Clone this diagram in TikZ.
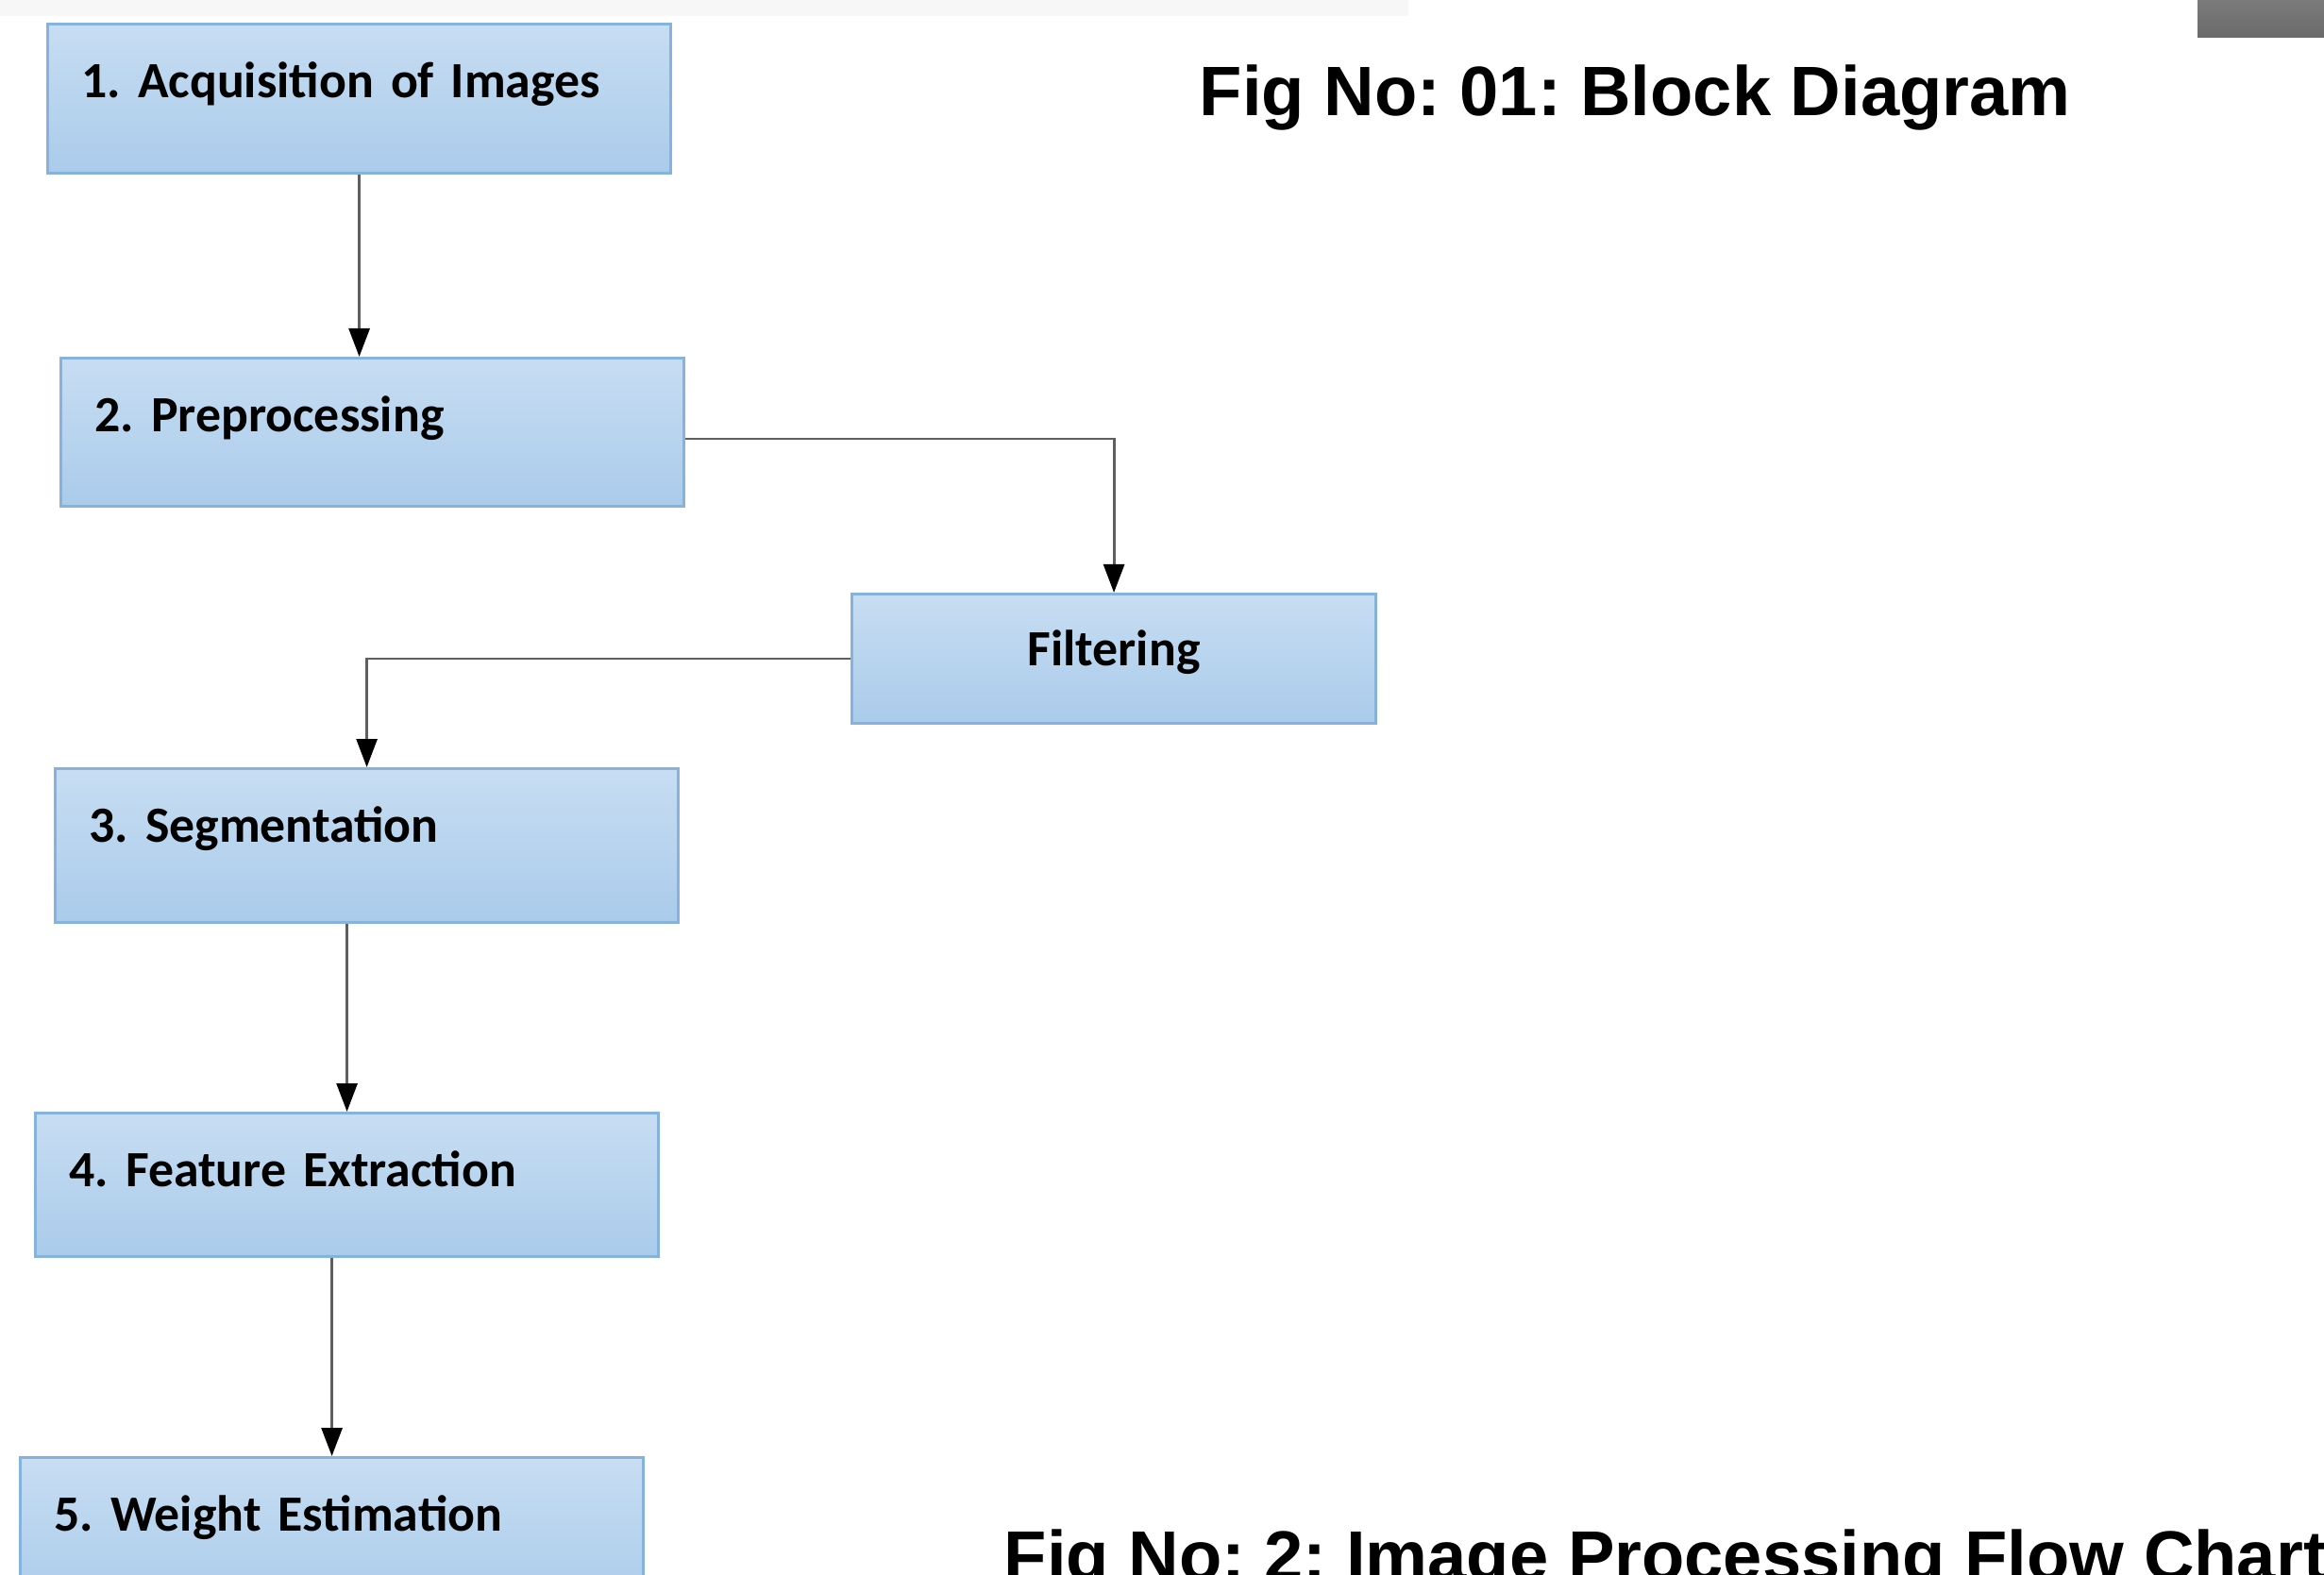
\documentclass[tikz,border=0pt]{standalone}
\usepackage{fontspec}
\setmainfont{Carlito}
\newfontfamily\figfont{Liberation Sans}
\usepackage{xcolor}
\usepackage{tikz}
\usetikzlibrary{arrows.meta, positioning, calc}
\frenchspacing

\definecolor{blkborder}{RGB}{134,179,221}
\definecolor{blktop}{RGB}{199,221,242}
\definecolor{blkbot}{RGB}{170,203,235}
\definecolor{linkgray}{RGB}{95,95,95}
\definecolor{bandgray}{RGB}{247,247,247}

\tikzset{
  blk/.style={draw=blkborder, line width=0.9pt, top color=blktop, bottom color=blkbot,
    anchor=north west, inner xsep=0.36cm, inner ysep=0pt, text width=5.88cm, align=left,
    text height=0.78cm, text depth=0.8cm, font=\bfseries\fontsize{15.3}{19}\selectfont},
  link/.style={draw=linkgray, line width=0.8pt, -{Triangle[width=0.22cm,length=0.3cm,color=black]}},
  figcap/.style={anchor=base west, inner sep=0pt, font=\figfont\bfseries\fontsize{21.1}{25}\selectfont}
}

\begin{document}
\begin{tikzpicture}
          \useasboundingbox (0,0) rectangle (24.62,-16.69);
          \clip (0,0) rectangle (24.62,-16.69);

          \fill[bandgray] (0,0) rectangle (14.92,-0.17);
          \shade[top color={rgb,255:red,123;green,123;blue,123}, bottom color={rgb,255:red,106;green,106;blue,106}] (23.28,0) rectangle (24.62,-0.40);

          \node[blk] (acq) at (0.49,-0.24) {1. Acquisition of Images};
          \node[blk, text depth=0.79cm] (pre) at (0.63,-3.78) {2. Preprocessing};
          \node[blk, text width=4.83cm, align=center, text height=0.76cm, text depth=0.61cm] (filt) at (9.01,-6.28) {Filtering};
          \node[blk, text depth=0.85cm] (seg) at (0.57,-8.13) {3. Segmentation};
          \node[blk, text depth=0.74cm] (feat) at (0.36,-11.78) {4. Feature Extraction};
          \node[blk, text depth=0.82cm] (wt) at (0.20,-15.43) {5. Weight Estimation};

          \draw[link] (acq.south) -- (acq.south |- pre.north);
          \draw[link] ([yshift=-0.07cm]pre.east) -| (filt.north);
          \draw[link] (filt.west) -| (seg.north);
          \draw[link] (seg.south -| feat.north) -- (feat.north);
          \draw[link] (feat.south -| wt.north) -- (wt.north);

          \node[figcap] (title) at (12.70,-1.23) {Fig No: 01: Block Diagram};
          \node[figcap] (chart) at (10.63,-16.74) {Fig No: 2: Image Processing Flow Chart};
        \end{tikzpicture}
\end{document}
